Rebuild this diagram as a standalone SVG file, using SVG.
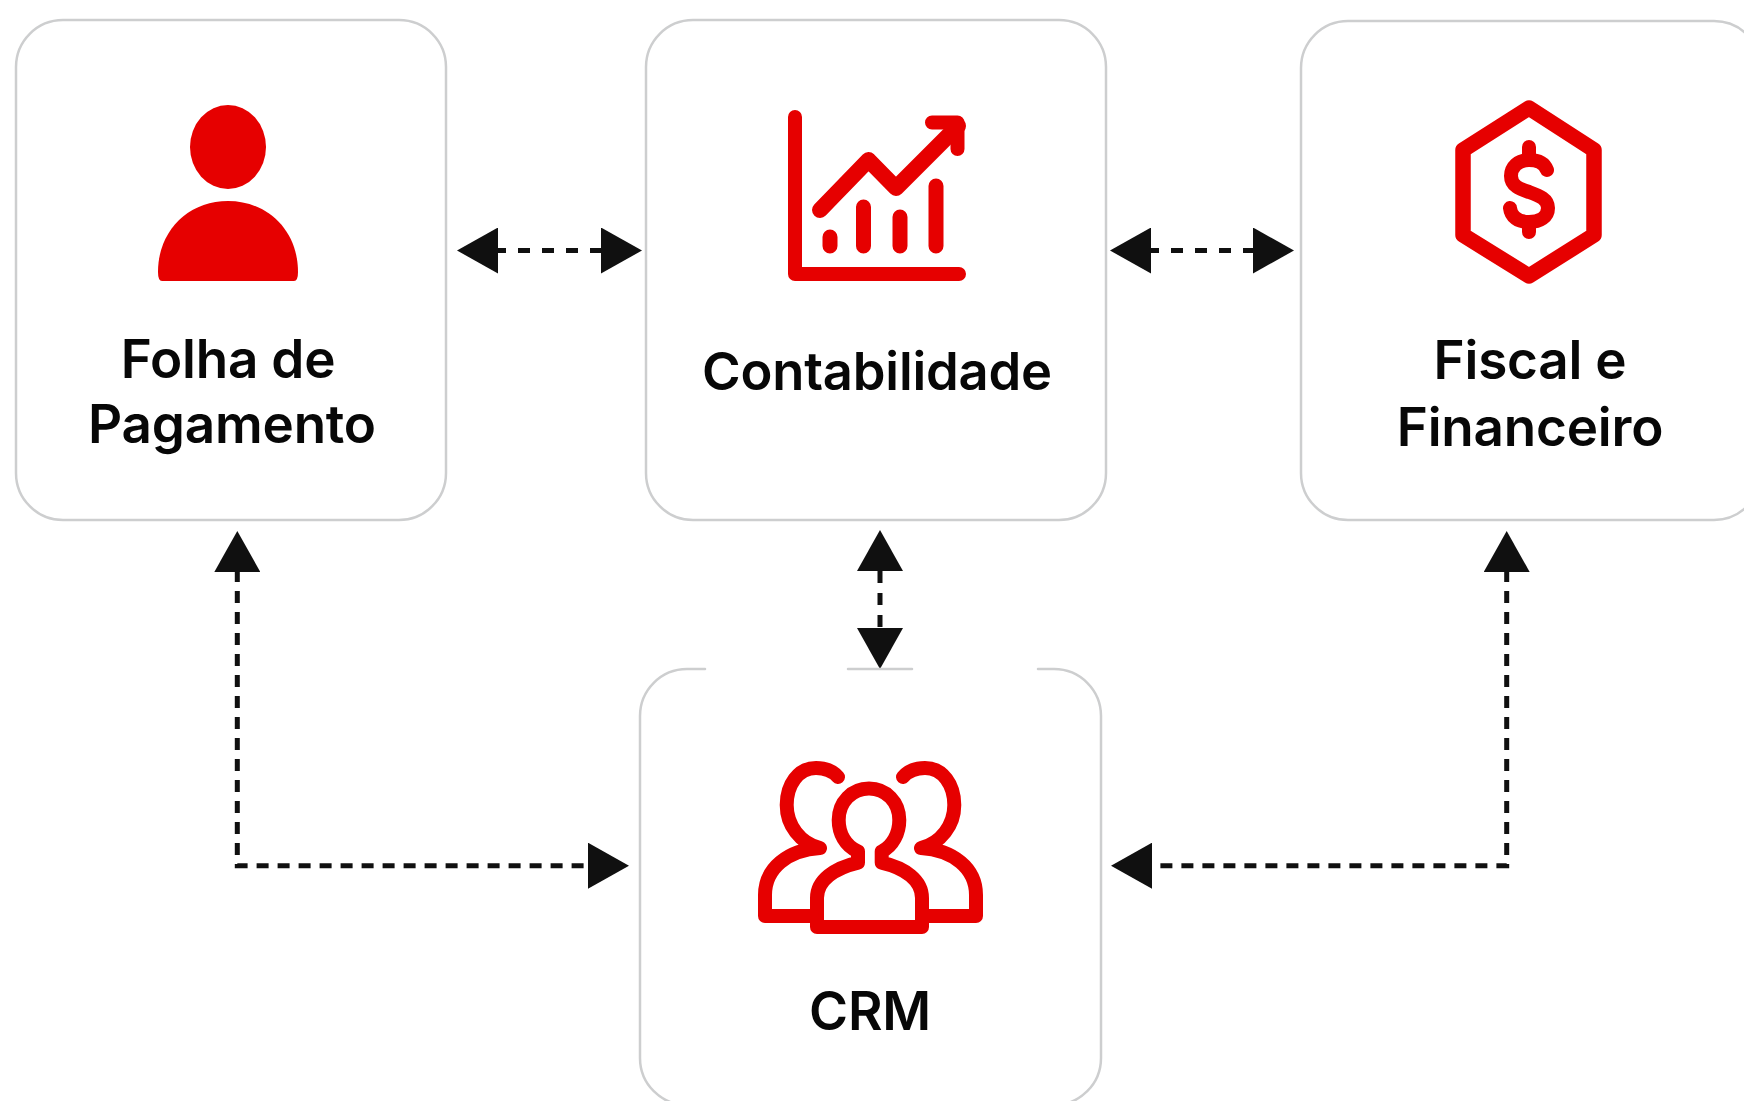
<svg xmlns="http://www.w3.org/2000/svg" width="1744" height="1101" viewBox="0 0 1744 1101">
<defs>
<style>
.card{fill:#fff;stroke:#cdcecf;stroke-width:2.5}
.edge{fill:none;stroke:#cdcecf;stroke-width:2.5;stroke-linecap:round}
.red{fill:#e60000}
.ico{fill:none;stroke:#e60000;stroke-linecap:round;stroke-linejoin:round}
.lbl{font-family:Inter,"Liberation Sans",sans-serif;font-weight:600;font-size:53px;letter-spacing:-0.2px;fill:#070707;text-anchor:middle}
.c{fill:none;stroke:#101010;stroke-width:5;stroke-dasharray:12 12;marker-start:url(#ah);marker-end:url(#ah)}
.l{fill:none;stroke:#101010;stroke-width:5;stroke-dasharray:12 9;stroke-dashoffset:2;marker-start:url(#ah);marker-end:url(#ah)}
</style>
<marker id="ah" markerUnits="userSpaceOnUse" viewBox="0 0 41 46" markerWidth="41" markerHeight="46" refX="0" refY="23" orient="auto-start-reverse"><path d="M0 0L41 23L0 46Z" fill="#101010"/></marker>
</defs>
<rect width="1744" height="1101" fill="#fff"/>
<g id="connectors">
<path class="c" d="M498 250.500H601" style="stroke-dashoffset:4"/>
<path class="c" d="M1151 250.500H1253" style="stroke-dashoffset:4"/>
<path class="c" d="M880 571V628" style="stroke-dasharray:12 10"/>
<path class="l" d="M237.300 572V865.700H588"/>
<path class="l" d="M1506.700 572V865.700H1152"/>
</g>
<g id="folha">
<rect class="card" x="16" y="20" width="430" height="500" rx="47"/>
<ellipse class="red" cx="228" cy="147" rx="38" ry="42"/>
<path class="red" d="M158 272C158 231 188 201 228 201C268 201 298 231 298 272Q298 281 294 281H162Q158 281 158 272Z"/>
<text class="lbl" x="228" y="378">Folha de</text>
<text class="lbl" x="232" y="443">Pagamento</text>
</g>
<g id="contabilidade">
<rect class="card" x="646" y="20" width="460" height="500" rx="47"/>
<g class="ico" stroke-width="14">
<path d="M795 117V274H959"/>
<path d="M830 237V246M863.500 207V246M900 217V246M936 186V246" stroke-width="15"/>
<path d="M820 210L868.500 160L896 188L958 126" stroke-width="16"/>
<path d="M932 122.500H957.500V149"/>
</g>
<text class="lbl" x="877" y="390" style="font-size:52.500px">Contabilidade</text>
</g>
<g id="fiscal">
<rect class="card" x="1301" y="21" width="460" height="499" rx="47"/>
<path class="ico" stroke-width="15.500" d="M1529 108L1594 150V235L1529 276L1463 235V150Z"/>
<g class="ico" stroke-width="14">
<path d="M1547 170C1544 162 1537 160 1529 160C1518 160 1511 167 1511 176C1511 186 1520 189 1529 192C1540 196 1548 199 1548 208C1548 217 1540 222 1529 222C1518 222 1511 217 1510 208"/>
<path d="M1529 147V158M1529 224V232"/>
</g>
<text class="lbl" x="1530" y="379">Fiscal e</text>
<text class="lbl" x="1530" y="446">Financeiro</text>
</g>
<g id="crm">
<path fill="#fff" d="M640 716A47 47 0 0 1 687 669H1054A47 47 0 0 1 1101 716V1058A47 47 0 0 1 1054 1105H687A47 47 0 0 1 640 1058Z"/>
<path class="edge" d="M705 669H687A47 47 0 0 0 640 716V1058A47 47 0 0 0 687 1105H1054A47 47 0 0 0 1101 1058V716A47 47 0 0 0 1054 669H1038M848 669H912"/>
<g class="ico" stroke-width="14">
<path d="M817 927V898C817 880 835 868 858 862.600V851.500C845 846 838.700 833 838.700 820C838.700 802 852 788.500 869 788.500C886 788.500 899.300 802 899.300 820C899.300 833 893 846 881.700 851.500V862.600C905 868 922 880 922 898V927Z"/>
<path d="M838 777C832 770 824 768 816 768C798 768 786.700 785 786.700 805C786.700 825 800 843 820 848C788 850 765 868 765 895V916H812"/>
<path d="M838 777C832 770 824 768 816 768C798 768 786.700 785 786.700 805C786.700 825 800 843 820 848C788 850 765 868 765 895V916H812" transform="matrix(-1 0 0 1 1741 0)"/>
</g>
<text class="lbl" x="870" y="1030">CRM</text>
</g>
</svg>
